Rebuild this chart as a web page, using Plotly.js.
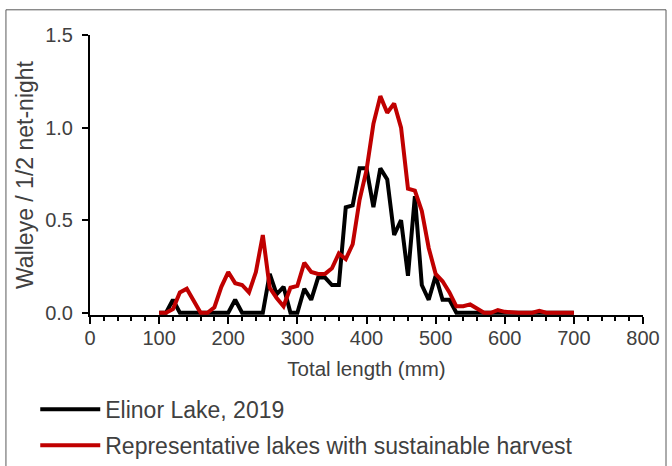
<!DOCTYPE html>
<html>
<head>
<meta charset="utf-8">
<script src="https://cdn.plot.ly/plotly-3.0.1.min.js"></script>
<style>html,body{margin:0;padding:0;background:#fff;}#chart{width:672px;height:466px;}</style>
</head>
<body>
<div id="chart"></div>
<script>
const lengths = [100,110,120,130,140,150,160,170,180,190,200,210,220,230,240,250,260,270,280,290,300,310,320,330,340,350,360,370,380,390,400,410,420,430,440,450,460,470,480,490,500,510,520,530,540,550,560,570,580,590,600,610,620,630,640,650,660,670,680,690,700];
const elinor = [0,0,0.07,0,0,0,0,0,0,0,0,0.07,0,0,0,0,0.21,0.10,0.14,0,0,0.13,0.07,0.19,0.19,0.15,0.15,0.57,0.58,0.78,0.78,0.57,0.78,0.72,0.42,0.50,0.20,0.63,0.15,0.07,0.20,0.07,0.07,0,0,0,0,0,0,0,0,0,0,0,0,0,0,0,0,0,0];
const representative = [0,0,0.02,0.11,0.13,0.06,0,0,0.03,0.14,0.22,0.16,0.15,0.11,0.22,0.42,0.135,0.08,0.035,0.135,0.145,0.27,0.22,0.21,0.21,0.24,0.32,0.29,0.37,0.61,0.77,1.02,1.17,1.08,1.13,1.0,0.67,0.66,0.55,0.35,0.21,0.17,0.11,0.035,0.035,0.045,0.02,0,0,0.015,0.005,0,0,0,0,0.01,0,0,0,0,0];
const seriesNames = ["Elinor Lake, 2019", "Representative lakes with sustainable harvest"];
const xTitle = "Total length (mm)";
const yTitle = "Walleye / 1/2 net-night";

const txt = "#404040";
const traces = [
  {x: lengths, y: elinor, name: seriesNames[0], type: "scatter", mode: "lines",
   line: {color: "#000000", width: 4}, legendgroup: "a"},
  {x: lengths, y: representative, name: seriesNames[1], type: "scatter", mode: "lines",
   line: {color: "#C00000", width: 4}, legendgroup: "b"}
];
const layout = {
  width: 672, height: 466,
  margin: {l: 90, r: 29, t: 35, b: 151, autoexpand: false},
  paper_bgcolor: "#ffffff", plot_bgcolor: "#ffffff",
  font: {family: "Liberation Sans, Arial, sans-serif", color: txt, size: 20},
  showlegend: true,
  legend: {x: -0.099, y: -0.26, xanchor: "left", yanchor: "top", orientation: "v",
    font: {size: 23, color: txt}, itemwidth: 60, tracegroupgap: 3, bgcolor: "rgba(0,0,0,0)"},
  xaxis: {range: [0, 800], dtick: 100, tick0: 0, showgrid: false, zeroline: false,
    showline: true, linecolor: "#000", linewidth: 2, layer: "below traces",
    ticks: "outside", ticklen: 7, tickwidth: 2, tickcolor: "#000", ticklabelstandoff: -3,
    minor: {dtick: 20, ticks: "outside", ticklen: 4, tickwidth: 2, tickcolor: "#000"},
    tickfont: {size: 20, color: txt},
    title: {text: xTitle, font: {size: 20.5, color: txt}, standoff: 14}, automargin: false},
  yaxis: {range: [-0.012, 1.5], dtick: 0.5, tick0: 0, tickformat: ".1f", showgrid: false, zeroline: false,
    showline: true, linecolor: "#000", linewidth: 2, layer: "below traces",
    ticks: "outside", ticklen: 6, tickwidth: 2, tickcolor: "#000", ticklabelstandoff: 5,
    tickfont: {size: 20, color: txt},
    title: {text: yTitle, font: {size: 23, color: txt}, standoff: 5}, automargin: false},
  shapes: [
    {type: "rect", xref: "paper", yref: "paper", x0: -0.152, x1: 1.0416, y0: -0.6, y1: 1.09,
     line: {color: "#595959", width: 1}, fillcolor: "rgba(0,0,0,0)", layer: "below"}
  ]
};
Plotly.newPlot("chart", traces, layout, {displayModeBar: false, staticPlot: true});
</script>
</body>
</html>
